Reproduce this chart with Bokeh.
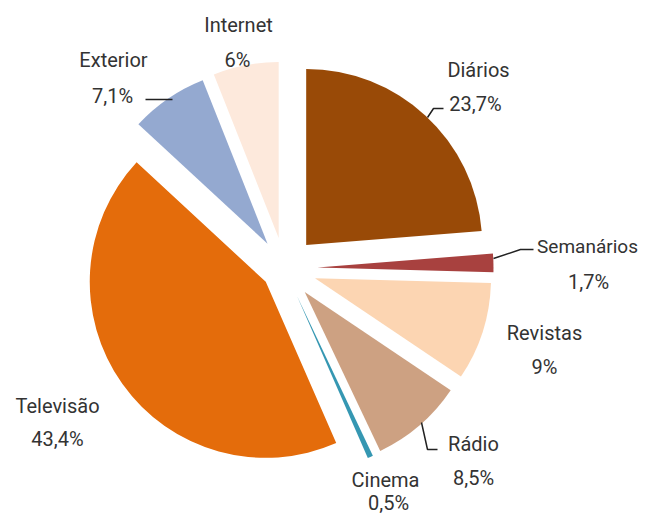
import math
from bokeh.plotting import figure
from bokeh.models import Range1d, ColumnDataSource
from bokeh.core.properties import value
from bokeh.embed import file_html
from bokeh.resources import INLINE

# ---- data ----
categories = ["Diários", "Semanários", "Revistas", "Rádio", "Cinema", "Televisão", "Exterior", "Internet"]
values = [23.7, 1.7, 9.0, 8.5, 0.5, 43.4, 7.1, 6.0]
value_labels = ["23,7%", "1,7%", "9%", "8,5%", "0,5%", "43,4%", "7,1%", "6%"]

# ---- style / layout ----
colors = ["#994a07", "#a8413f", "#fcd5b2", "#cda182", "#3597b2", "#e46c0b", "#94a9d0", "#fde9dc"]
explode = [32, 33, 32, 31, 31, 23, 30, 31]
CX, CY = 284, 268          # pie centre (picture px)
R = 176                    # radius (px)
FONT = "Roboto"
FSIZE = "20px"

# label positions (picture px): name line centre, value line centre
name_pos = [(478, 69), (587, 246), (544, 332), (473, 443), (385, 479), (57, 405), (113, 59), (238, 24)]
name_size = ["20px", "19px", "20px", "20px", "20px", "20px", "20px", "20px"]
val_pos = [(475, 103), (588, 281), (544, 366), (473, 477), (388, 502), (57, 438), (112, 95), (237, 59)]
leaders = [
    [(427, 117), (433, 108), (443, 108)],
    [(493, 258), (520, 249), (533, 249)],
    [(421, 422), (427, 449), (437, 449)],
    [(145, 99), (172, 99)],
]

W, H = 639, 513
p = figure(width=W, height=H, output_backend="svg", toolbar_location=None,
           x_range=Range1d(0, W), y_range=Range1d(-H, 0),
           min_border=0, outline_line_color=None)
p.axis.visible = False
p.grid.visible = False
p.background_fill_color = "white"
p.border_fill_color = "white"

total = sum(values)
cum = 0.0
xs, ys, starts, ends = [], [], [], []
for v, d in zip(values, explode):
    f = v / total
    a0 = math.pi / 2 - 2 * math.pi * cum
    a1 = math.pi / 2 - 2 * math.pi * (cum + f)
    mid = (a0 + a1) / 2
    xs.append(CX + d * math.cos(mid))
    ys.append(-CY + d * math.sin(mid))
    starts.append(a0)
    ends.append(a1)
    cum += f

src = ColumnDataSource(dict(x=xs, y=ys, s=starts, e=ends, c=colors, cat=categories))
p.wedge(x="x", y="y", radius=R, start_angle="s", end_angle="e", direction="clock",
        fill_color="c", line_color=None, source=src)

p.multi_line(xs=[[pt[0] for pt in l] for l in leaders],
             ys=[[-pt[1] for pt in l] for l in leaders],
             line_color="#222222", line_width=1.5)

nsrc = ColumnDataSource(dict(x=[q[0] for q in name_pos], y=[-q[1] for q in name_pos],
                             t=categories, fs=name_size))
p.text(x="x", y="y", text="t", text_font_size="fs", source=nsrc,
       text_font=value(FONT), text_color="#333333",
       text_align="center", text_baseline="middle")
p.text(x=[q[0] for q in val_pos], y=[-q[1] for q in val_pos], text=value_labels,
       text_font=value(FONT), text_font_size=FSIZE, text_color="#333333",
       text_align="center", text_baseline="middle")

open("out.html", "w").write(file_html(p, INLINE))
